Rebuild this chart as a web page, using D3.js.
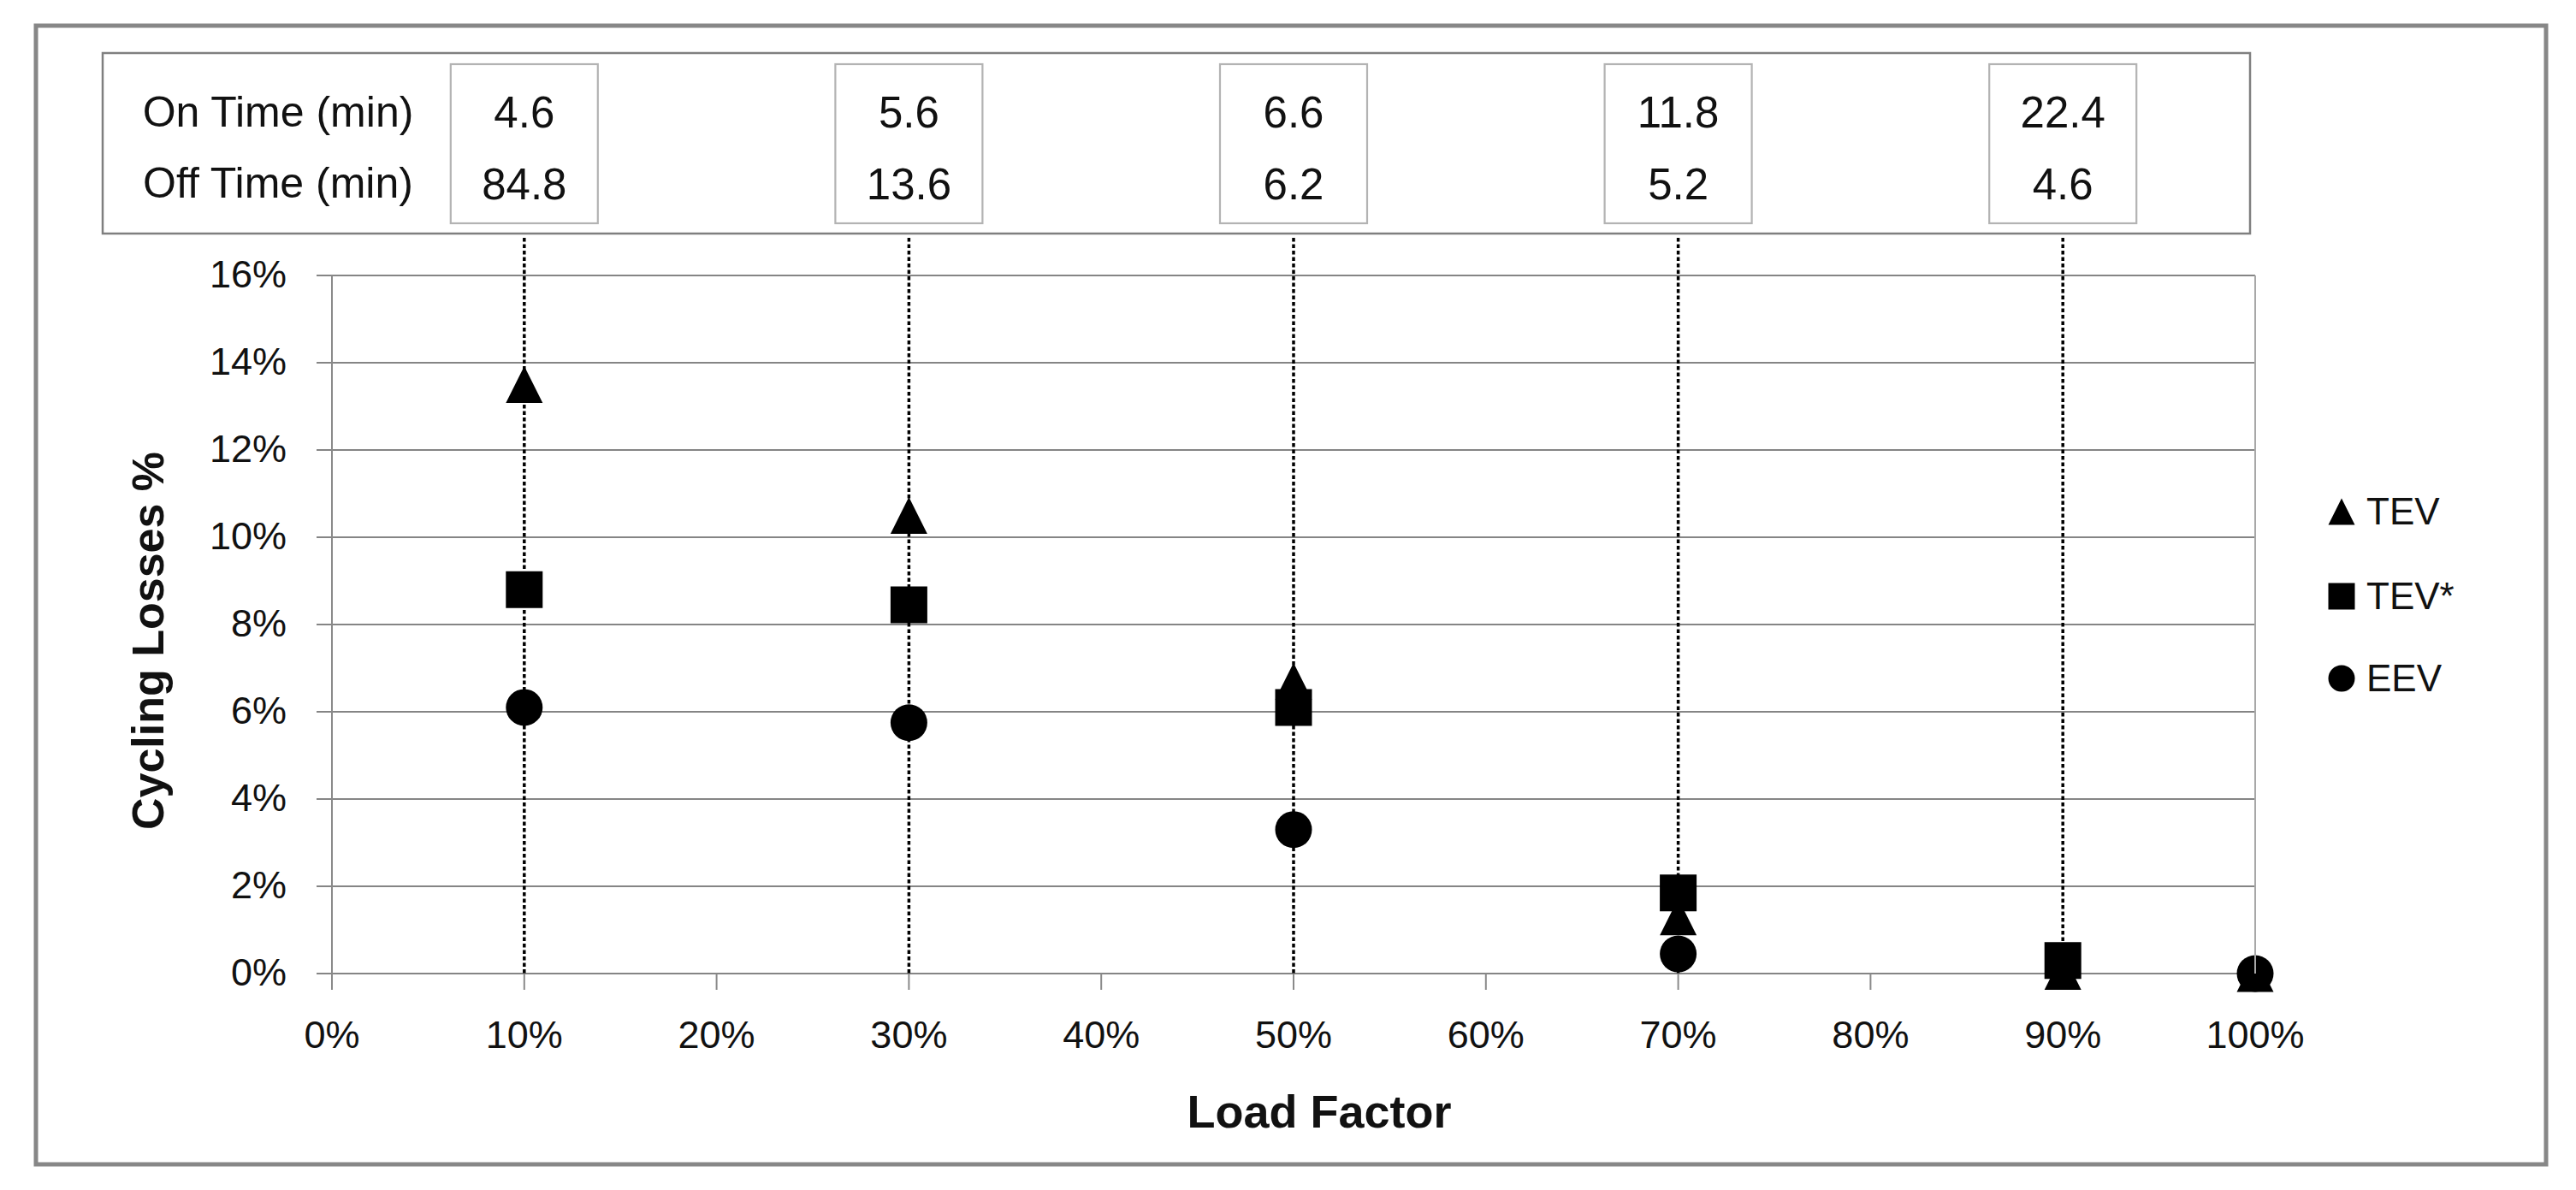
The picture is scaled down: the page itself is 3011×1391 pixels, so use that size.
<!DOCTYPE html>
<html>
<head>
<meta charset="utf-8">
<script src="https://cdn.jsdelivr.net/npm/d3@7"></script>
<style>
  body { margin: 0; background: #fff; }
  text { font-family: "Liberation Sans", Arial, sans-serif; fill: #111; }
</style>
</head>
<body>
<script>
// load factor (%) for each marker column
var loadFactor = [10, 30, 50, 70, 90, 100];
// cycling losses (%), null where no marker shows
var tev     = [13.5, 10.5, 6.7, 1.3, 0.05, 0];
var tevStar = [8.8, 8.45, 6.1, 1.85, 0.3, null];
var eev     = [6.1, 5.75, 3.3, 0.45, null, 0];

// on / off time table above the chart
var tableLoads = [10, 30, 50, 70, 90];
var onTime  = ["4.6", "5.6", "6.6", "11.8", "22.4"];
var offTime = ["84.8", "13.6", "6.2", "5.2", "4.6"];

var yTicks = [0, 2, 4, 6, 8, 10, 12, 14, 16];
var xTicks = [0, 10, 20, 30, 40, 50, 60, 70, 80, 90, 100];

var W = 3011, H = 1391;

var svg = d3.select("body").append("svg")
  .attr("width", W)
  .attr("height", H);

svg.append("rect").attr("width", W).attr("height", H).attr("fill", "#fff");

// outer frame
svg.append("rect")
  .attr("x", 42).attr("y", 30)
  .attr("width", 2934).attr("height", 1331)
  .attr("fill", "none").attr("stroke", "#878787").attr("stroke-width", 5);

var x = d3.scaleLinear().domain([0, 100]).range([388, 2636]);
var y = d3.scaleLinear().domain([0, 16]).range([1138, 322]);

// gridlines (with the little tick stubs on the left)
svg.append("g").selectAll("line")
  .data(yTicks)
  .enter().append("line")
  .attr("x1", 370).attr("x2", x(100))
  .attr("y1", function(d) { return y(d); })
  .attr("y2", function(d) { return y(d); })
  .attr("stroke", "#858585").attr("stroke-width", 2.2);

// y axis line
svg.append("line")
  .attr("x1", x(0)).attr("x2", x(0))
  .attr("y1", y(16)).attr("y2", y(0))
  .attr("stroke", "#8a8a8a").attr("stroke-width", 2);

// x tick marks
svg.append("g").selectAll("line")
  .data(xTicks)
  .enter().append("line")
  .attr("x1", function(d) { return x(d); })
  .attr("x2", function(d) { return x(d); })
  .attr("y1", y(0)).attr("y2", y(0) + 19)
  .attr("stroke", "#8a8a8a").attr("stroke-width", 2);

// y tick labels
svg.append("g").selectAll("text")
  .data(yTicks)
  .enter().append("text")
  .attr("x", 335)
  .attr("y", function(d) { return y(d) + 14; })
  .attr("text-anchor", "end")
  .style("font-size", "45px")
  .text(function(d) { return d + "%"; });

// x tick labels
svg.append("g").selectAll("text")
  .data(xTicks)
  .enter().append("text")
  .attr("x", function(d) { return x(d); })
  .attr("y", 1225)
  .attr("text-anchor", "middle")
  .style("font-size", "45px")
  .text(function(d) { return d + "%"; });

// axis titles
svg.append("text")
  .attr("x", 1542).attr("y", 1318)
  .attr("text-anchor", "middle")
  .style("font-size", "54px").style("font-weight", "bold")
  .text("Load Factor");

svg.append("text")
  .attr("transform", "translate(191,749) rotate(-90)")
  .attr("text-anchor", "middle")
  .style("font-size", "52px").style("font-weight", "bold")
  .text("Cycling Losses %");

// table box
svg.append("rect")
  .attr("x", 120).attr("y", 62)
  .attr("width", 2510).attr("height", 211)
  .attr("fill", "#fff").attr("stroke", "#7f7f7f").attr("stroke-width", 2.5);

svg.append("text")
  .attr("x", 325).attr("y", 148)
  .attr("text-anchor", "middle")
  .style("font-size", "50px")
  .text("On Time (min)");
svg.append("text")
  .attr("x", 325).attr("y", 231)
  .attr("text-anchor", "middle")
  .style("font-size", "50px")
  .text("Off Time (min)");

var cells = svg.append("g").selectAll("g")
  .data(tableLoads)
  .enter().append("g")
  .attr("transform", function(d) { return "translate(" + x(d) + ",0)"; });

cells.append("rect")
  .attr("x", -86).attr("y", 75)
  .attr("width", 172).attr("height", 186)
  .attr("fill", "#fff").attr("stroke", "#b3b3b3").attr("stroke-width", 2.2);

cells.append("text")
  .attr("y", 149)
  .attr("text-anchor", "middle")
  .style("font-size", "51px")
  .text(function(d, i) { return onTime[i]; });

cells.append("text")
  .attr("y", 233)
  .attr("text-anchor", "middle")
  .style("font-size", "51px")
  .text(function(d, i) { return offTime[i]; });

// dotted drop lines
svg.append("g").selectAll("line")
  .data(tableLoads)
  .enter().append("line")
  .attr("x1", function(d) { return x(d); })
  .attr("x2", function(d) { return x(d); })
  .attr("y1", 278).attr("y2", y(0))
  .attr("stroke", "#000").attr("stroke-width", 3.5)
  .attr("stroke-dasharray", "4.5,3");

// marker shapes, centred on their box
var shapes = {
  triangle: function(s) {
    var h = s / 2;
    return "M0," + (-h) + "L" + h + "," + h + "L" + (-h) + "," + h + "Z";
  },
  square: function(s) {
    var h = s / 2;
    return "M" + (-h) + "," + (-h) + "H" + h + "V" + h + "H" + (-h) + "Z";
  },
  circle: function(s) {
    var r = s / 2;
    return "M" + (-r) + ",0A" + r + "," + r + " 0 1,0 " + r + ",0A" + r + "," + r + " 0 1,0 " + (-r) + ",0Z";
  }
};

var series = [
  {name: "TEV", values: tev, shape: "triangle"},
  {name: "TEV*", values: tevStar, shape: "square"},
  {name: "EEV", values: eev, shape: "circle"}
];

series.forEach(function(s) {
  var pts = loadFactor.map(function(l, i) { return {x: l, y: s.values[i]}; })
    .filter(function(p) { return p.y !== null; });
  svg.append("g").selectAll("path")
    .data(pts)
    .enter().append("path")
    .attr("transform", function(d) { return "translate(" + x(d.x) + "," + y(d.y) + ")"; })
    .attr("d", shapes[s.shape](43))
    .attr("fill", "#000");
});

// right edge of plot area
svg.append("line")
  .attr("x1", x(100)).attr("x2", x(100))
  .attr("y1", y(16)).attr("y2", y(0))
  .attr("stroke", "#a8a8a8").attr("stroke-width", 2);

// legend
var legend = svg.append("g").selectAll("g")
  .data(series)
  .enter().append("g")
  .attr("transform", function(d, i) { return "translate(2737," + [598, 697, 793][i] + ")"; });

legend.append("path")
  .attr("d", function(d) { return shapes[d.shape](31); })
  .attr("fill", "#000");

legend.append("text")
  .attr("x", 29).attr("y", 15)
  .style("font-size", "44px")
  .text(function(d) { return d.name; });
</script>
</body>
</html>
